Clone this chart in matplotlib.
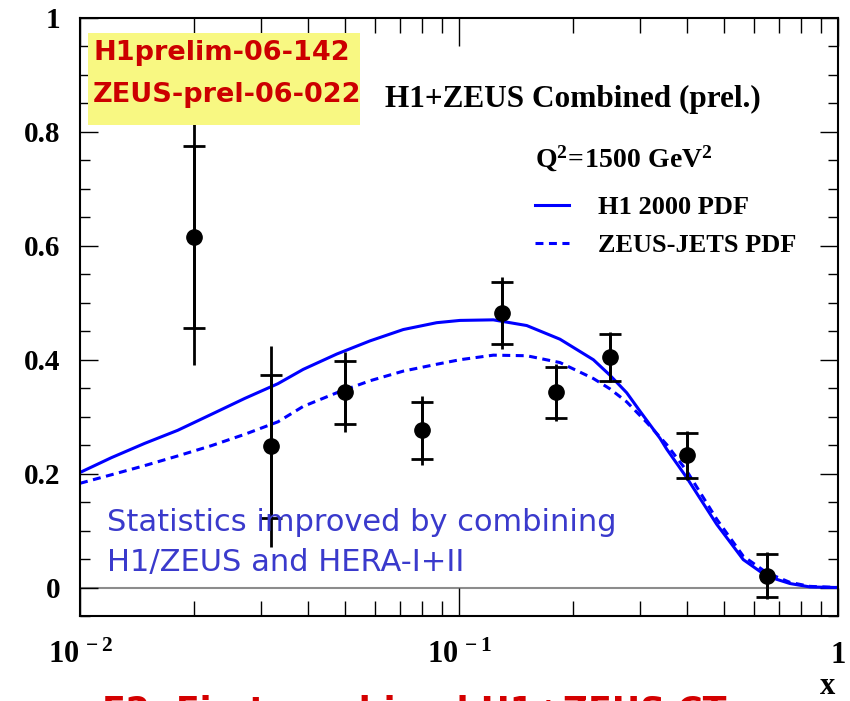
import numpy as np
import matplotlib.pyplot as plt
from matplotlib.patches import Rectangle
from matplotlib.ticker import FixedLocator, NullFormatter

plt.rcParams['mathtext.fontset'] = 'custom'
plt.rcParams['mathtext.rm'] = 'Liberation Serif:bold'
plt.rcParams['mathtext.bf'] = 'Liberation Serif:bold'
plt.rcParams['mathtext.it'] = 'Liberation Serif:bold'

# combined data points
x_data = [0.02, 0.032, 0.05, 0.08, 0.13, 0.18, 0.25, 0.40, 0.65]
y_data = [0.615, 0.248, 0.343, 0.276, 0.482, 0.343, 0.404, 0.232, 0.021]
err_stat = [0.16, 0.126, 0.055, 0.05, 0.055, 0.045, 0.041, 0.04, 0.037]
err_tot = [0.225, 0.176, 0.07, 0.06, 0.063, 0.05, 0.044, 0.043, 0.042]

# H1 2000 PDF curve
x_h1 = [0.01, 0.0121, 0.0148, 0.0181, 0.0222, 0.0272, 0.0333, 0.0388, 0.0476,
        0.0582, 0.0713, 0.0873, 0.1006, 0.1232, 0.1509, 0.1847, 0.2262, 0.25,
        0.277, 0.30, 0.3391, 0.3532, 0.3988, 0.4786, 0.5624, 0.6484, 0.747,
        0.844, 1.0]
y_h1 = [0.202, 0.228, 0.253, 0.276, 0.304, 0.332, 0.358, 0.383, 0.410,
        0.433, 0.453, 0.465, 0.469, 0.470, 0.460, 0.436, 0.400, 0.373,
        0.342, 0.310, 0.262, 0.243, 0.193, 0.111, 0.049, 0.020, 0.007,
        0.001, 0.0]

# ZEUS-JETS PDF curve
x_zj = [0.01, 0.0121, 0.0148, 0.0181, 0.0222, 0.0272, 0.0333, 0.0388, 0.0476,
        0.0582, 0.0713, 0.0873, 0.1006, 0.1232, 0.1509, 0.1847, 0.2262, 0.25,
        0.277, 0.3127, 0.3532, 0.3988, 0.4786, 0.5624, 0.6484, 0.747, 0.844,
        1.0]
y_zj = [0.183, 0.198, 0.214, 0.231, 0.249, 0.269, 0.291, 0.318, 0.342,
        0.363, 0.380, 0.392, 0.400, 0.408, 0.407, 0.395, 0.367, 0.349,
        0.326, 0.290, 0.251, 0.205, 0.120, 0.055, 0.026, 0.009, 0.002,
        0.0]

x_ticks = [0.01, 0.1, 1.0]
x_ticklabels = [r'$\mathbf{10^{\,-2}}$', r'$\mathbf{10^{\,-1}}$', '1']
y_ticks = [0, 0.2, 0.4, 0.6, 0.8, 1.0]
y_ticklabels = ['0', '0.2', '0.4', '0.6', '0.8', '1']

serif = 'Liberation Serif'
blue = '#0000ff'

fig = plt.figure(figsize=(8.5, 7.01), dpi=100)
ax = fig.add_axes([80/850, 1-616/701, 758/850, 598/701])

ax.axhline(0, color='#8c8c8c', lw=1.5, zorder=1)

l1, = ax.plot(x_h1, y_h1, color=blue, lw=2.2, label='H1 2000 PDF', zorder=2)
l2, = ax.plot(x_zj, y_zj, color=blue, lw=2.2, ls=(0, (2.6, 1.8)),
              label='ZEUS-JETS PDF', zorder=2)

ax.errorbar(x_data, y_data, yerr=err_tot, fmt='none', ecolor='black',
            elinewidth=2, capsize=0, zorder=3)
ax.errorbar(x_data, y_data, yerr=err_stat, fmt='o', color='black', ms=11,
            ecolor='black', elinewidth=2, capsize=8, capthick=2, zorder=4)

ax.set_xscale('log')
ax.set_xlim(0.01, 1.0)
ax.set_ylim(-0.05, 1.0)

ax.xaxis.set_major_locator(FixedLocator(x_ticks))
ax.xaxis.set_minor_locator(FixedLocator(
    [m * d for d in (0.01, 0.1) for m in range(2, 10)]))
ax.xaxis.set_major_formatter(NullFormatter())
ax.xaxis.set_minor_formatter(NullFormatter())
ax.set_yticks(y_ticks)
ax.set_yticks(np.arange(-0.05, 1.0, 0.05), minor=True)
ax.set_yticklabels(y_ticklabels, fontfamily=serif, fontweight='bold', fontsize=21)

ax.tick_params(axis='x', which='major', direction='in', length=20, width=1,
               top=True, bottom=True)
ax.tick_params(axis='x', which='minor', direction='in', length=11, width=1,
               top=True, bottom=True)
ax.tick_params(axis='y', which='major', direction='in', length=13, width=1,
               left=True, right=True, pad=14)
ax.tick_params(axis='y', which='minor', direction='in', length=7, width=1,
               left=True, right=True)
for s in ax.spines.values():
    s.set_linewidth(1.5)

for xv, lab in zip(x_ticks, x_ticklabels):
    ax.text(xv, -0.078, lab, transform=ax.get_xaxis_transform(), ha='center',
            va='baseline', fontsize=22, fontfamily=serif, fontweight='bold')

fig.text(828/850, 1-694/701, 'x', fontsize=22, fontfamily=serif,
         fontweight='bold', ha='center', va='baseline')

# annotations
fig.text(385/850, 1-107/701, 'H1+ZEUS Combined (prel.)',
         fontsize=22.5, fontfamily=serif, fontweight='bold', va='baseline')
fig.text(535/850, 1-167/701, r'$\mathbf{Q^{2}\!=\!1500\ GeV^{2}}$',
         fontsize=20, va='baseline')

leg = ax.legend(handles=[l1, l2], loc='upper left',
                bbox_to_anchor=(535/850, 1-196/701), bbox_transform=fig.transFigure,
                frameon=False, handlelength=1.3, handletextpad=1.1,
                labelspacing=0.55, borderaxespad=0, borderpad=0,
                prop={'family': serif, 'weight': 'bold', 'size': 19})

fig.patches.append(Rectangle((88/850, 1-125/701), 272/850, 92/701,
                             transform=fig.transFigure, facecolor='#f8f882',
                             edgecolor='none', zorder=5))
for i, t in enumerate(['H1prelim-06-142', 'ZEUS-prel-06-022']):
    fig.text(93/850, 1-(60 + 42*i)/701, t, color='#cc0000', fontsize=19.5,
             fontfamily='DejaVu Sans', fontweight='bold', va='baseline', zorder=6)

for i, t in enumerate(['Statistics improved by combining', 'H1/ZEUS and HERA-I+II']):
    fig.text(107/850, 1-(531 + 40*i)/701, t, color='#3a3acc', fontsize=22,
             fontfamily='DejaVu Sans', va='baseline')

fig.text(102/850, 1-694/701, 'F2: First combined H1+ZEUS CT', color='#d40000',
         fontsize=25, fontfamily='DejaVu Sans', fontweight='bold', va='top')

fig.savefig('out.png', dpi=100)
